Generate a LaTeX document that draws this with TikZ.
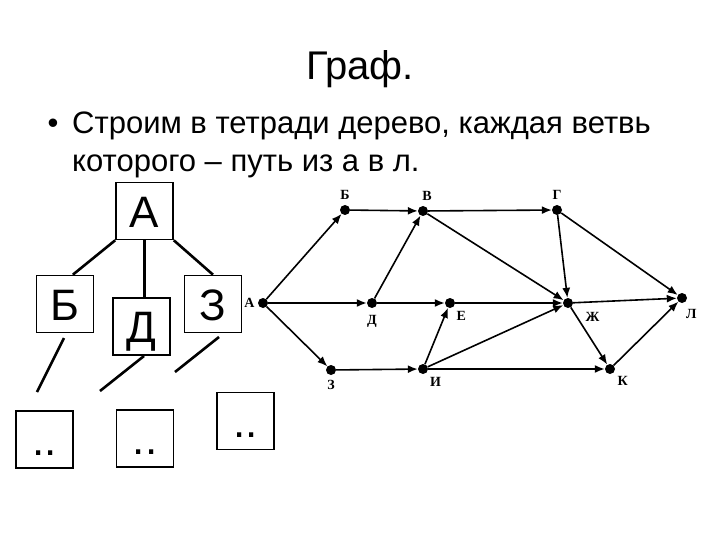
\documentclass[tikz,border=0pt]{standalone}
\usepackage{fontspec}
\setmainfont{Liberation Sans}
\newfontfamily\graphfont{Liberation Serif}
\usetikzlibrary{arrows.meta}

\begin{document}
\begin{tikzpicture}[x=1pt, y=-1pt,
    treebox/.style={draw, line width=1.6pt, minimum width=57pt, minimum height=57pt, inner sep=0pt, font=\fontsize{44}{44}\selectfont, text height=32pt, text depth=0pt},
    branch/.style={line width=2.6pt},
    vert/.style={circle, fill, inner sep=0pt, minimum size=10pt},
    lbl/.style={font=\graphfont\bfseries\fontsize{14}{14}\selectfont, inner sep=1pt, label distance=4pt},
    dirarc/.style={line width=1.6pt, -{Latex[length=10pt, width=8pt]}}]
    \useasboundingbox (0,0) rectangle (720,540);

    % Title and bullet text
    \node[anchor=base, inner sep=0pt, font=\fontsize{40}{40}\selectfont] (title) at (360,80) {Граф.};
    \node[anchor=base, inner sep=0pt, font=\fontsize{31}{31}\selectfont] (bullet) at (53,134) {•};
    \node[anchor=base west, inner sep=0pt, font=\fontsize{31}{31}\selectfont] (line1) at (72,134) {Строим в тетради дерево, каждая ветвь};
    \node[anchor=base west, inner sep=0pt, font=\fontsize{31}{31}\selectfont] (line2) at (72,172) {которого – путь из а в л.};

    % Tree boxes
    \node[treebox] (A) at (144.5,211) {А};
    \node[treebox] (B) at (65,304) {Б};
    \node[treebox] (D) at (141.5,326.5) {Д};
    \node[treebox] (Z) at (213,304) {З};
    \node[treebox] (L1) at (44.5,439.5) {..};
    \node[treebox] (L2) at (145,438.5) {..};
    \node[treebox] (L3) at (245.5,421) {..};

    % Tree branches
    \draw[branch] (A.south west) -- (B.75);
    \draw[branch] (A.south) -- (A.south |- D.north);
    \draw[branch] (A.south east) -- (Z.north);
    \coordinate (b1) at (64,338);
    \coordinate (b2) at (37,392);
    \coordinate (d1) at (144,356);
    \coordinate (d2) at (100,391);
    \coordinate (z1) at (219,337);
    \coordinate (z2) at (175,372);
    \draw[branch] (b1) -- (b2);
    \draw[branch] (d1) -- (d2);
    \draw[branch] (z1) -- (z2);

    % Graph vertices
    \node[vert, label={[lbl, label distance=2pt]left:А}] (ga) at (263,303) {};
    \node[vert, label={[lbl]above:Б}] (gb) at (345,210) {};
    \node[vert, label={[lbl, xshift=4pt]above:В}] (gv) at (423,211) {};
    \node[vert, label={[lbl]above:Г}] (gg) at (557,210) {};
    \node[vert, label={[lbl, label distance=6pt]below:Д}] (gd) at (372,303) {};
    \node[vert, label={[lbl, label distance=4pt]-54:Е}] (ge) at (450,303) {};
    \node[vert, label={[lbl, label distance=13pt]-25:Ж}] (gzh) at (568,303) {};
    \node[vert, label={[lbl, label distance=5pt]-74:Л}] (gl) at (682,298) {};
    \node[vert, label={[lbl]below:З}] (gz) at (331,370) {};
    \node[vert, label={[lbl, label distance=4pt]-50:И}] (gi) at (423,369) {};
    \node[vert, label={[lbl, label distance=4pt]-45:К}] (gk) at (610,369) {};

    % Graph arcs
    \draw[dirarc] (ga) -- (gb);
    \draw[dirarc] (ga) -- (gd);
    \draw[dirarc] (ga) -- (gz);
    \draw[dirarc] (gb) -- (gv);
    \draw[dirarc] (gv) -- (gg);
    \draw[dirarc] (gv) -- (gzh);
    \draw[dirarc] (gd) -- (gv);
    \draw[dirarc] (gd) -- (ge);
    \draw[dirarc] (ge) -- (gzh);
    \draw[dirarc] (gz) -- (gi);
    \draw[dirarc] (gi) -- (ge);
    \draw[dirarc] (gi) -- (gzh);
    \draw[dirarc] (gi) -- (gk);
    \draw[dirarc] (gg) -- (gzh);
    \draw[dirarc] (gg) -- (gl);
    \draw[dirarc] (gzh) -- (gl);
    \draw[dirarc] (gzh) -- (gk);
    \draw[dirarc] (gk) -- (gl);
\end{tikzpicture}
\end{document}
